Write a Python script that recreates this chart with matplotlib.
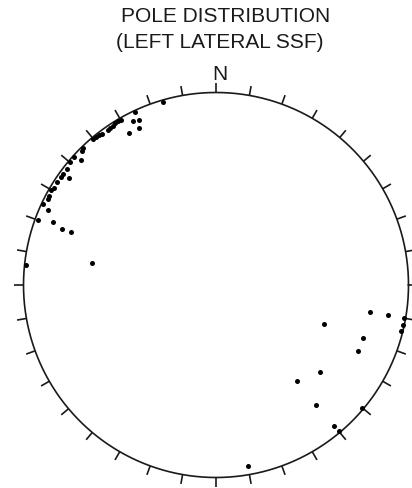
import numpy as np
import matplotlib
matplotlib.use("Agg")
import matplotlib.pyplot as plt

plt.rcParams['font.family'] = ['Liberation Sans', 'DejaVu Sans']

title_lines = ["POLE DISTRIBUTION", "(LEFT LATERAL SSF)"]
north_label = "N"

# Poles: trend (deg, clockwise from N) and plunge (deg)
trend = [344, 335, 333, 335, 334, 330, 330, 329, 328, 327,
         326, 325, 323, 322, 321, 320, 316, 315, 313, 312,
         310, 308, 306, 305, 306, 303, 301, 300, 298, 297,
         295, 294, 290, 291, 290, 290, 280, 276,
         100, 100, 100, 102, 104, 110, 110, 115, 130, 140,
         140, 140, 130, 140, 170]
plunge = [1, 1, 5, 6, 10, 10, 1, 1, 1, 2,
          2, 2, 2, 1, 1, 1, 1, 2, 5, 1,
          1, 2, 2, 2, 6, 2, 2, 1, 2, 2,
          1, 5, 2, 10, 16, 21, 35, 1,
          20, 10, 1, 1, 1, 40, 20, 20, 30, 35,
          20, 5, 1, 1, 5]

tick_step = 10  # degrees between rim ticks

W, H, DPI = 412, 489, 100
cx, cy, R = 216.0, 286.0, 192.5

fig = plt.figure(figsize=(W / DPI, H / DPI), dpi=DPI)
ax = fig.add_axes([0, 0, 1, 1])
ax.set_xlim((0 - cx) / R, (W - cx) / R)
ax.set_ylim((cy - H) / R, cy / R)
ax.set_aspect('equal')
ax.axis('off')

# primitive circle
t = np.linspace(0, 2 * np.pi, 721)
ax.plot(np.cos(t), np.sin(t), color='#1a1a1a', lw=1.2)

# rim ticks
tick_len = 9.5 / R
for az in range(0, 360, tick_step):
    a = np.radians(az)
    sx, sy = np.sin(a), np.cos(a)
    ax.plot([sx, sx * (1 + tick_len)], [sy, sy * (1 + tick_len)],
            color='#1a1a1a', lw=1.2, solid_capstyle='butt')

# N label
ax.text(0.02, 1 + 9.5 / R, north_label, ha='center', va='bottom',
        fontsize=15, color='#1a1a1a')

# title (two lines)
fig.text(225.5 / W, 1 - 17 / H, title_lines[0], ha='center', va='center',
         fontsize=15, color='#1a1a1a')
fig.text(220 / W, 1 - 43 / H, title_lines[1], ha='center', va='center',
         fontsize=15, color='#1a1a1a')

# equal-area projection of poles
tr = np.radians(np.array(trend, dtype=float))
pl = np.radians(np.array(plunge, dtype=float))
r = np.sqrt(2) * np.sin((np.pi / 2 - pl) / 2)
x = r * np.sin(tr)
y = r * np.cos(tr)
ax.plot(x, y, 'o', color='black', ms=3.6, mew=0)

fig.savefig('out.png', dpi=DPI)
